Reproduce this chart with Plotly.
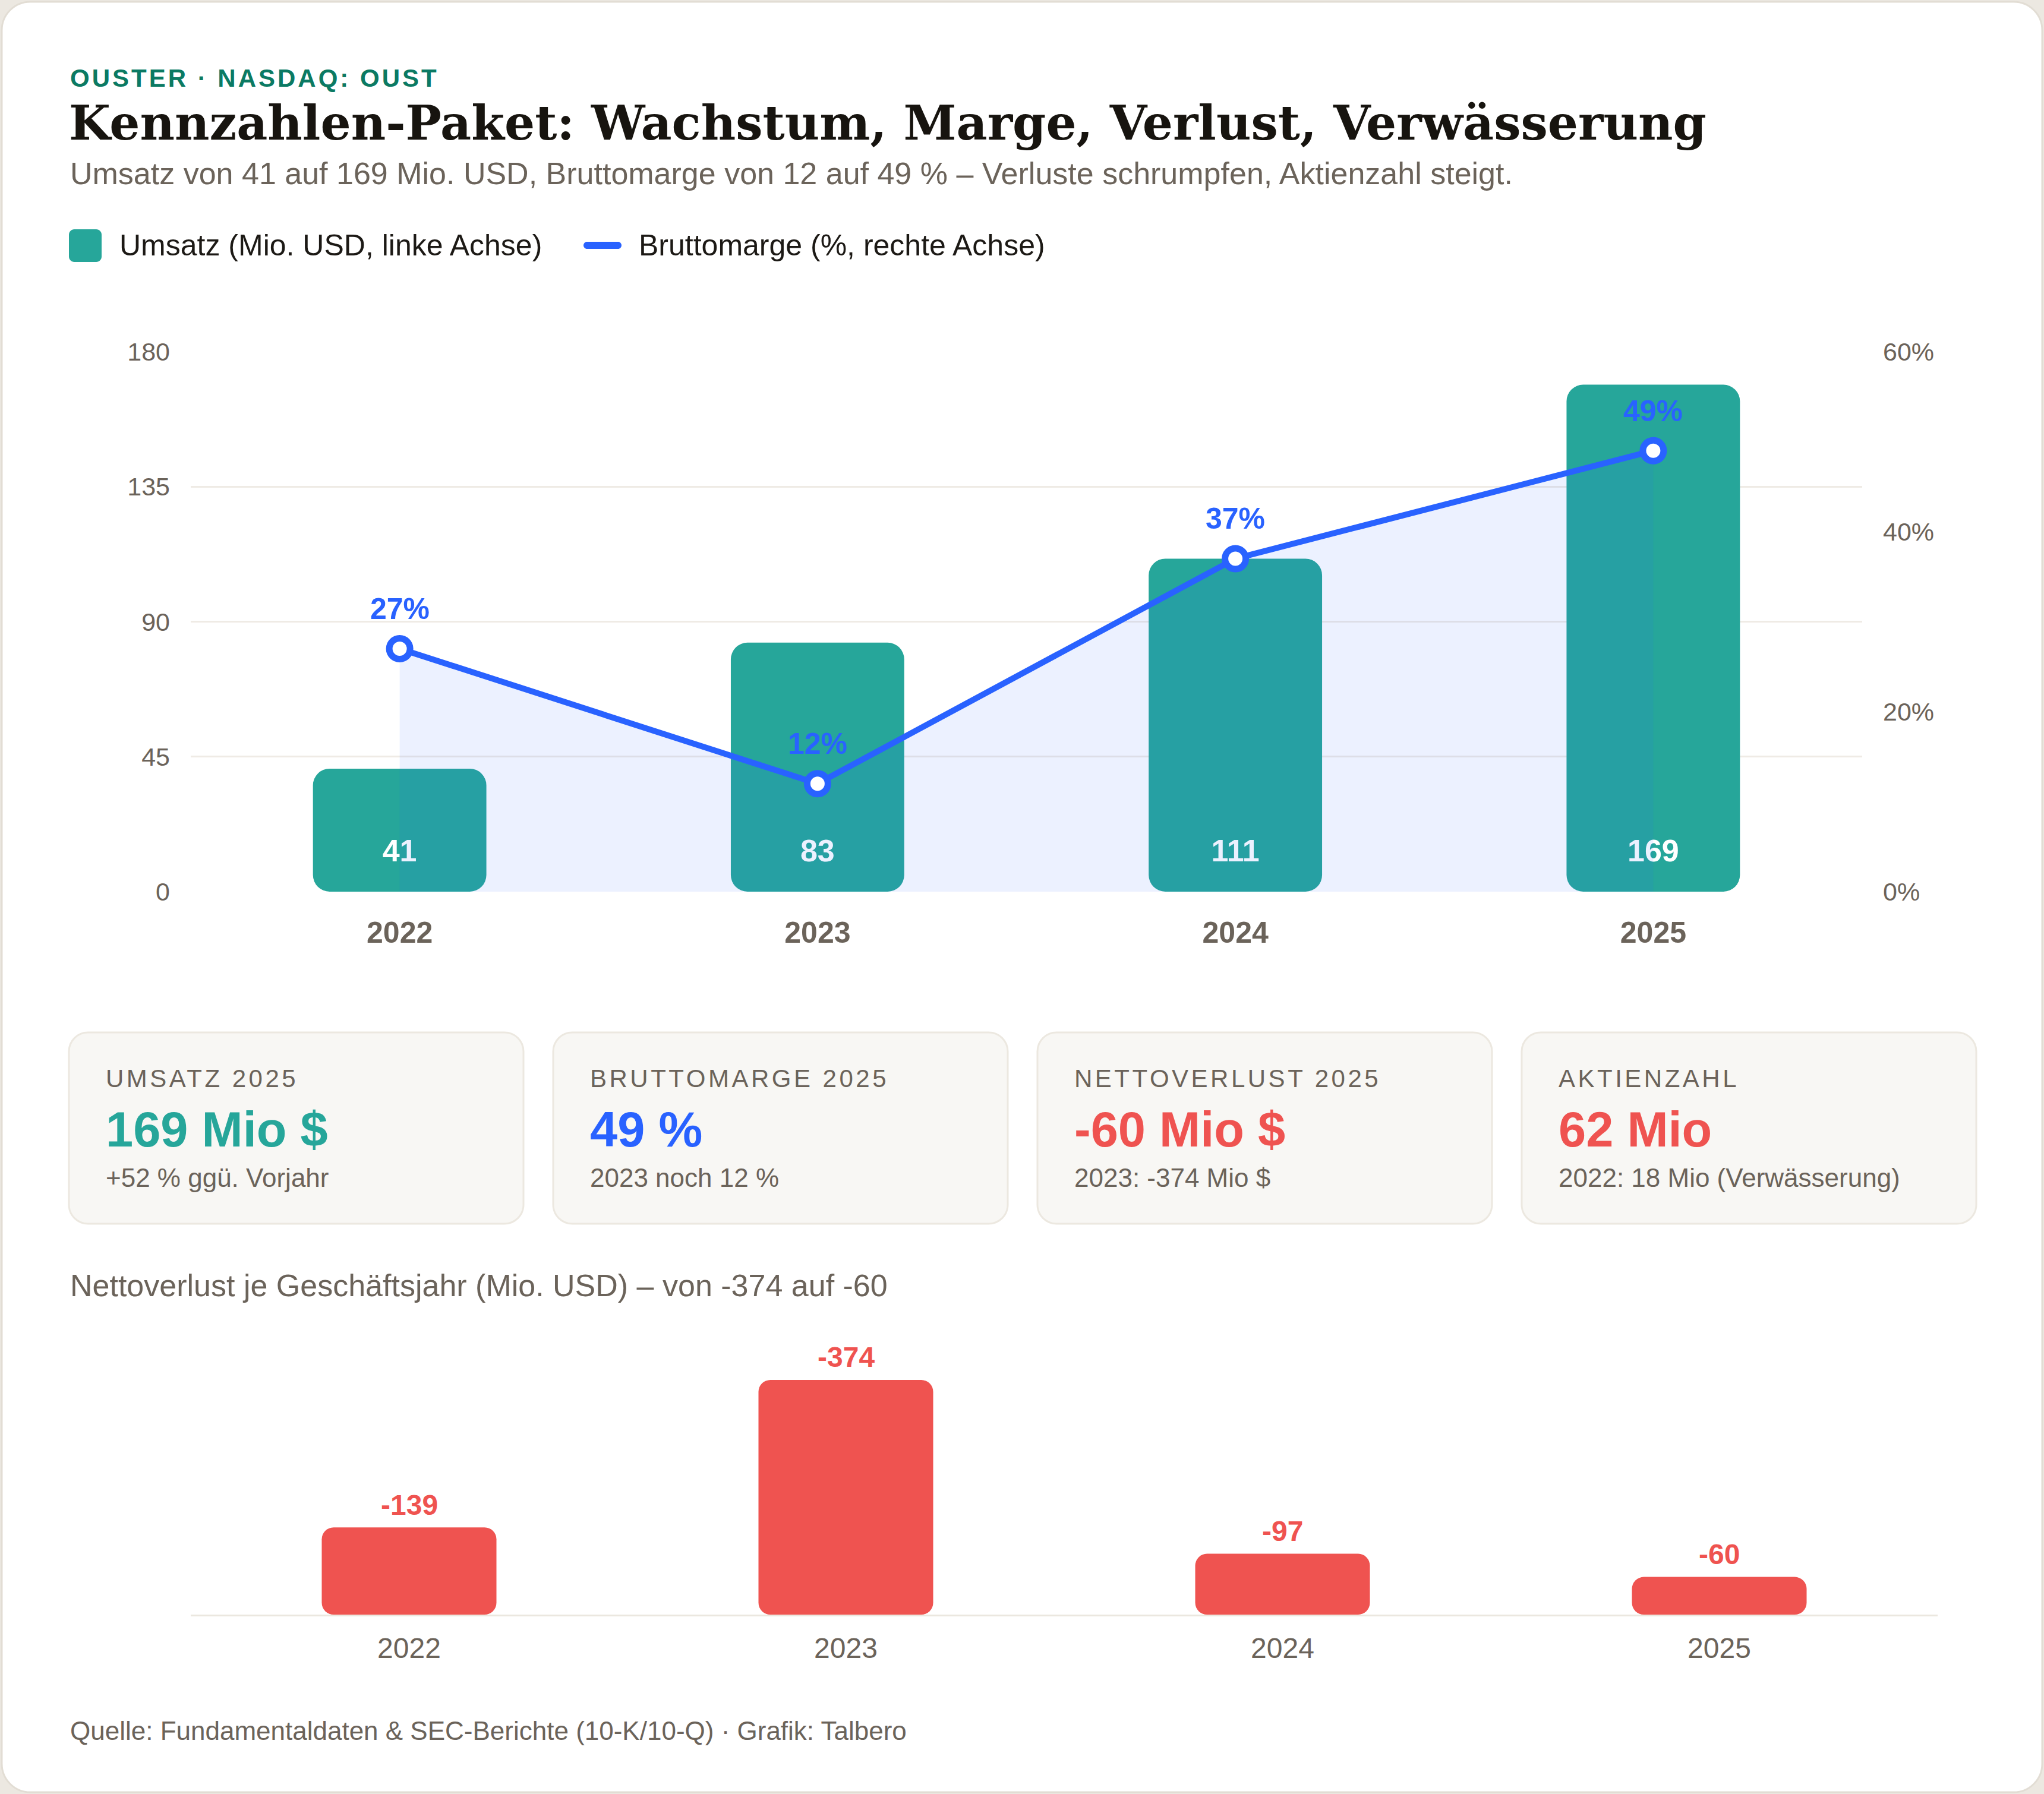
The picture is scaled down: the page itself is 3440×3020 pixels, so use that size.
import plotly.graph_objects as go

W, H = 3440, 3020

# ---------------- data ----------------
years = ["2022", "2023", "2024", "2025"]
revenue = [41, 83, 111, 169]            # Mio. USD
gross_margin = [27, 12, 37, 49]         # %
net_loss = [-139, -374, -97, -60]       # Mio. USD
left_ticks = [0, 45, 90, 135, 180]
right_ticks = [0, 20, 40, 60]
right_ticktext = ["0%", "20%", "40%", "60%"]

kpi_labels = ["UMSATZ 2025", "BRUTTOMARGE 2025", "NETTOVERLUST 2025", "AKTIENZAHL"]
kpi_values = ["169 Mio $", "49 %", "-60 Mio $", "62 Mio"]
kpi_notes = ["+52 % ggü. Vorjahr", "2023 noch 12 %", "2023: -374 Mio $", "2022: 18 Mio (Verwässerung)"]

eyebrow = "OUSTER · NASDAQ: OUST"
title = "Kennzahlen-Paket: Wachstum, Marge, Verlust, Verwässerung"
subtitle = "Umsatz von 41 auf 169 Mio. USD, Bruttomarge von 12 auf 49 % – Verluste schrumpfen, Aktienzahl steigt."
legend_rev = "Umsatz (Mio. USD, linke Achse)"
legend_margin = "Bruttomarge (%, rechte Achse)"
loss_title = "Nettoverlust je Geschäftsjahr (Mio. USD) – von -374 auf -60"
footer = "Quelle: Fundamentaldaten & SEC-Berichte (10-K/10-Q) · Grafik: Talbero"

# ---------------- style ----------------
TEAL = "#26a69a"
BLUE = "#2962ff"
RED = "#ef5350"
GREY = "#6b635a"
DARK = "#1c1915"
GRID = "#efebe5"
PAGE = "#ece8e1"
CARD = "#f8f7f4"
CARD_LINE = "#ece8e0"
EYEBROW = "#0b7a63"
SANS = "Liberation Sans, Arial, Helvetica, sans-serif"
SERIF = "DejaVu Serif, Georgia, serif"
kpi_colors = [TEAL, BLUE, RED, RED]


def fx(x):
    return x / W


def fy(y):
    return 1 - y / H


def rrect(x0, y0, x1, y1, r):
    k = 0.5523 * r
    X, Y = fx, fy
    return (
        f"M {X(x0 + r)},{Y(y0)} L {X(x1 - r)},{Y(y0)} "
        f"C {X(x1 - r + k)},{Y(y0)} {X(x1)},{Y(y0 + r - k)} {X(x1)},{Y(y0 + r)} "
        f"L {X(x1)},{Y(y1 - r)} "
        f"C {X(x1)},{Y(y1 - r + k)} {X(x1 - r + k)},{Y(y1)} {X(x1 - r)},{Y(y1)} "
        f"L {X(x0 + r)},{Y(y1)} "
        f"C {X(x0 + r - k)},{Y(y1)} {X(x0)},{Y(y1 - r + k)} {X(x0)},{Y(y1 - r)} "
        f"L {X(x0)},{Y(y0 + r)} "
        f"C {X(x0)},{Y(y0 + r - k)} {X(x0 + r - k)},{Y(y0)} {X(x0 + r)},{Y(y0)} Z"
    )


shapes = []
annotations = []


def txt(x, y, text, size, color, weight=400, family=SANS, xanchor="left", spacing=None):
    if spacing:
        text = f"<span style='letter-spacing:{spacing}px'>{text}</span>"
    annotations.append(dict(
        x=fx(x), y=fy(y), xref="paper", yref="paper", text=text, showarrow=False,
        xanchor=xanchor, yanchor="middle",
        font=dict(size=size, color=color, family=family, weight=weight),
    ))


# outer card
shapes.append(dict(type="path", path=rrect(3, 3, 3437, 3017, 48), xref="paper", yref="paper",
                   fillcolor="white", line=dict(color="#e2ddd4", width=3), layer="below"))

# header texts
txt(116, 131, eyebrow, 42, EYEBROW, 700, spacing=4)
txt(114, 207, title, 80.5, "#17140f", 700, SERIF)
txt(116, 292, subtitle, 52, GREY)

# legend
shapes.append(dict(type="path", path=rrect(116, 386, 171, 441, 9), xref="paper", yref="paper",
                   fillcolor=TEAL, line=dict(width=0), layer="above"))
txt(199, 413, legend_rev, 50, DARK)
shapes.append(dict(type="path", path=rrect(982, 407, 1046, 419, 6), xref="paper", yref="paper",
                   fillcolor=BLUE, line=dict(width=0), layer="above"))
txt(1073, 413, legend_margin, 50, DARK)

# KPI cards
card_w, card_gap = 765, 50
for i in range(4):
    x0 = 116 + i * (card_w + card_gap)
    shapes.append(dict(type="path", path=rrect(x0, 1738, x0 + card_w, 2060, 32), xref="paper", yref="paper",
                       fillcolor=CARD, line=dict(color=CARD_LINE, width=3), layer="below"))
    txt(x0 + 60, 1815, kpi_labels[i], 42, GREY, spacing=4.5)
    txt(x0 + 60, 1901, kpi_values[i], 83, kpi_colors[i], 700)
    txt(x0 + 60, 1983, kpi_notes[i], 44, GREY)

txt(116, 2164, loss_title, 52, GREY)
txt(116, 2913, footer, 44, GREY)

# ---------------- traces ----------------
fig = go.Figure()

BAR_W_TOP = 0.415
BAR_W_BOT = 0.40
R_TOP = 28
R_BOT = 20

fig.add_trace(go.Bar(x=years, y=revenue, base=[0] * len(revenue),
                     width=BAR_W_TOP, marker=dict(color=TEAL, cornerradius=R_TOP, line=dict(width=0)),
                     xaxis="x", yaxis="y", hoverinfo="skip", showlegend=False))
# revenue labels inside bars (constant offset above baseline)
BAR_LABEL_Y = 12.7
fig.add_trace(go.Scatter(x=years, y=[BAR_LABEL_Y] * len(years), mode="text",
                         text=[str(v) for v in revenue], textposition="middle center",
                         textfont=dict(color="white", size=52, family=SANS, weight=700),
                         xaxis="x", yaxis="y", hoverinfo="skip", showlegend=False))
# margin area + line (right axis)
fig.add_trace(go.Scatter(x=years, y=gross_margin, mode="lines", fill="tozeroy",
                         fillcolor="rgba(41,98,255,0.09)", line=dict(width=0, color="rgba(0,0,0,0)"),
                         xaxis="x", yaxis="y2", hoverinfo="skip", showlegend=False))
fig.add_trace(go.Scatter(x=years, y=gross_margin, mode="lines+markers",
                         line=dict(color=BLUE, width=10),
                         marker=dict(size=35, color="white", line=dict(color=BLUE, width=11)),
                         xaxis="x", yaxis="y2", hoverinfo="skip", showlegend=False))
for i, m in enumerate(gross_margin):
    annotations.append(dict(x=i, y=m, xref="x", yref="y2", yshift=67, text=f"{m}%", showarrow=False,
                            xanchor="center", yanchor="middle",
                            font=dict(size=50, color=BLUE, family=SANS, weight=700)))

# net loss bars (magnitude upward)
loss_mag = [-v for v in net_loss]
fig.add_trace(go.Bar(x=years, y=loss_mag, base=[0] * len(loss_mag),
                     width=BAR_W_BOT, marker=dict(color=RED, cornerradius=R_BOT, line=dict(width=0)),
                     xaxis="x2", yaxis="y3", hoverinfo="skip", showlegend=False))
for i, (v, m) in enumerate(zip(net_loss, loss_mag)):
    annotations.append(dict(x=i, y=m, xref="x2", yref="y3", yshift=38, text=f"{v}", showarrow=False,
                            xanchor="center", yanchor="middle",
                            font=dict(size=48, color=RED, family=SANS, weight=700)))

fig.update_layout(
    width=W, height=H, autosize=False,
    margin=dict(l=0, r=0, t=0, b=0, pad=0, autoexpand=False),
    paper_bgcolor=PAGE,
    plot_bgcolor="rgba(0,0,0,0)",
    barmode="overlay",
    showlegend=False,
    shapes=shapes,
    annotations=annotations,
    xaxis=dict(domain=[fx(321), fx(3134)], type="category", range=[-0.5, 3.5], anchor="y",
               automargin=False, showgrid=False, zeroline=False, showline=False, ticks="",
               tickfont=dict(size=50, color=GREY, family=SANS, weight=700), ticklabelstandoff=35),
    yaxis=dict(domain=[fy(1501), fy(592)], range=[0, 180], tickvals=left_ticks, anchor="x",
               automargin=False, showgrid=True, gridcolor=GRID, gridwidth=3, zeroline=False,
               showline=False, ticks="",
               tickfont=dict(size=43, color=GREY, family=SANS), ticklabelstandoff=34),
    yaxis2=dict(overlaying="y", side="right", range=[0, 60], tickvals=right_ticks, ticktext=right_ticktext,
                anchor="x", automargin=False, showgrid=False, zeroline=False, showline=False, ticks="",
                tickfont=dict(size=43, color=GREY, family=SANS), ticklabelstandoff=34),
    xaxis2=dict(domain=[fx(321), fx(3261)], type="category", range=[-0.5, 3.5], anchor="y3",
                automargin=False, showgrid=False, zeroline=False, showline=True, linecolor="#ebe7df",
                linewidth=3, ticks="",
                tickfont=dict(size=48, color=GREY, family=SANS), ticklabelstandoff=12),
    yaxis3=dict(domain=[fy(2718), fy(2250)], range=[0, 443], anchor="x2", visible=False,
                automargin=False, showgrid=False, zeroline=False),
)

fig.write_html("out.html")
